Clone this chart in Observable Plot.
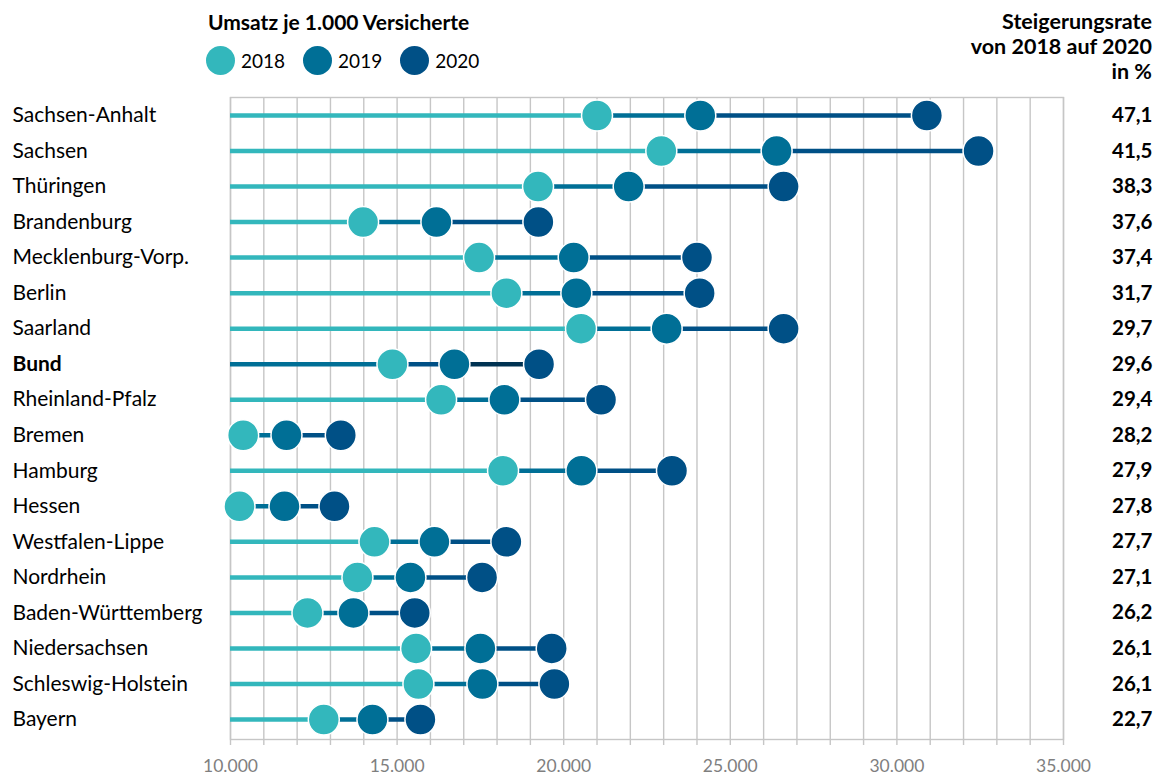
<!DOCTYPE html>
<html>
<head>
<meta charset="utf-8">
<script src="https://cdn.jsdelivr.net/npm/d3@7"></script>
<script src="https://cdn.jsdelivr.net/npm/@observablehq/plot@0.6"></script>
<style>
  body { margin: 0; background: #fff; font-family: Lato, "Open Sans", sans-serif; color: #000; }
  #chart { position: relative; width: 1160px; height: 775px; }
  #head { position: relative; height: 90px; }
  #legend-title { position: absolute; left: 208px; top: 10px; font-size: 21px; font-weight: bold; line-height: 24px; }
  #legend { position: absolute; left: 206px; top: 46px; display: flex; align-items: center; font-size: 19px; line-height: 28px; }
  #legend .item { display: flex; align-items: center; margin-right: 18px; }
  #legend .swatch { width: 29px; height: 29px; border-radius: 50%; margin-right: 6px; }
  #rate-head { position: absolute; right: 8px; top: 9px; text-align: right; font-size: 21.5px; font-weight: bold; line-height: 25px; }
  svg { display: block; }
</style>
</head>
<body>
<div id="chart">
  <div id="head">
    <div id="legend-title">Umsatz je 1.000 Versicherte</div>
    <div id="legend"></div>
    <div id="rate-head">Steigerungsrate<br>von 2018 auf 2020<br>in %</div>
  </div>
</div>
<script>
// Umsatz je 1.000 Versicherte nach Region, 2018–2020
const regions = [
  "Sachsen-Anhalt", "Sachsen", "Thüringen", "Brandenburg", "Mecklenburg-Vorp.",
  "Berlin", "Saarland", "Bund", "Rheinland-Pfalz", "Bremen", "Hamburg", "Hessen",
  "Westfalen-Lippe", "Nordrhein", "Baden-Württemberg", "Niedersachsen",
  "Schleswig-Holstein", "Bayern"
];
const v2018 = [21000, 22930, 19230, 13980, 17460, 18280, 20520, 14860, 16320, 10380, 18180, 10270, 14320, 13810, 12310, 15570, 15640, 12800];
const v2019 = [24100, 26390, 21950, 16180, 20300, 20380, 23090, 16720, 18220, 11680, 20530, 11620, 16120, 15400, 13690, 17500, 17560, 14260];
const v2020 = [30900, 32450, 26600, 19240, 24000, 24080, 26600, 19260, 21120, 13310, 23250, 13120, 18280, 17550, 15530, 19640, 19720, 15700];
const rates = [47.1, 41.5, 38.3, 37.6, 37.4, 31.7, 29.7, 29.6, 29.4, 28.2, 27.9, 27.8, 27.7, 27.1, 26.2, 26.1, 26.1, 22.7];

const years = ["2018", "2019", "2020"];
const yearColors = ["#33b7bc", "#006f96", "#005086"];
const navy = "#003252";
const xStart = 10000;
const xEnd = 35000;
const xTicks = d3.range(10000, 35001, 1000);
const xLabels = d3.range(10000, 35001, 5000);

const de = d3.formatLocale({decimal: ",", thousands: ".", grouping: [3], currency: ["", " €"]});
const fmtInt = de.format(",d");
const fmtRate = de.format(".1f");

// legend
const legend = document.getElementById("legend");
years.forEach((y, i) => {
  const item = document.createElement("div");
  item.className = "item";
  item.innerHTML = `<span class="swatch" style="background:${yearColors[i]}"></span><span>${y}</span>`;
  legend.appendChild(item);
});

const rows = regions.map((name, i) => ({
  name, bund: name === "Bund",
  values: [v2018[i], v2019[i], v2020[i]],
  rate: rates[i]
}));

// Segments: axis start -> 2018 -> 2019 -> 2020; the Bund row is one shade darker
const segments = rows.flatMap(r => {
  const stops = [xStart, ...r.values];
  const palette = r.bund ? [yearColors[1], yearColors[2], navy] : yearColors;
  return [0, 1, 2].map(k => ({name: r.name, x1: stops[k], x2: stops[k + 1], color: palette[k]}));
});

const points = rows.flatMap(r => r.values.map((v, k) => ({name: r.name, value: v, color: yearColors[k]})));

const plot = Plot.plot({
  width: 1160,
  height: 685,
  marginTop: 7,
  marginBottom: 36,
  marginLeft: 230,
  marginRight: 97,
  style: {fontFamily: "Lato, 'Open Sans', sans-serif", background: "#fff", overflow: "visible"},
  x: {domain: [xStart, xEnd], axis: null},
  y: {type: "point", domain: regions, range: [25, 629], padding: 0, round: false, axis: null},
  color: {type: "identity"},
  marks: [
    Plot.gridX(xTicks, {stroke: "#c6c6c6", strokeOpacity: 1, strokeWidth: 1.4}),
    Plot.frame({stroke: "#c6c6c6", strokeWidth: 1.4}),
    Plot.axisX(xTicks, {tickSize: 6, tickFormat: () => "", stroke: "#c6c6c6", strokeWidth: 1.4}),
    Plot.axisX(xLabels, {tickSize: 0, tickPadding: 20, tickFormat: fmtInt, fontSize: 17.5, fill: "#7f7f7f"}),
    Plot.ruleY(segments, {y: "name", x1: "x1", x2: "x2", stroke: "color", strokeWidth: 4.5}),
    Plot.dot(points, {x: "value", y: "name", fill: "color", r: 15.5, stroke: "#fff", strokeWidth: 1.5}),
    Plot.text(rows.filter(r => !r.bund), {y: "name", text: "name", frameAnchor: "left", dx: -218, textAnchor: "start", fontSize: 21, fill: "#000"}),
    Plot.text(rows.filter(r => r.bund), {y: "name", text: "name", frameAnchor: "left", dx: -218, textAnchor: "start", fontSize: 21, fontWeight: "bold", fill: "#000"}),
    Plot.text(rows, {y: "name", text: d => fmtRate(d.rate), frameAnchor: "right", dx: 89, textAnchor: "end", fontSize: 20.5, fontWeight: "bold", fill: "#000"})
  ]
});
document.getElementById("chart").appendChild(plot);
</script>
</body>
</html>
